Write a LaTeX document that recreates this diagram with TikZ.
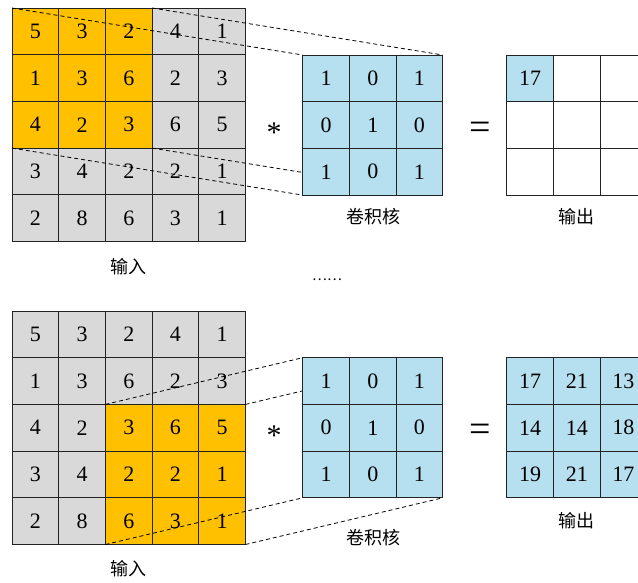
\documentclass[tikz,border=0pt]{standalone}
\usepackage{fontspec}
\setmainfont{Liberation Serif}
\newfontfamily\cjk{Noto Sans CJK SC}
\usepackage{xcolor}
\definecolor{cellgray}{RGB}{217,217,217}
\definecolor{cellorange}{RGB}{255,192,0}
\definecolor{cellblue}{RGB}{182,223,240}
\definecolor{gridline}{RGB}{35,35,35}
% input cells below, dashed guides in between, kernel on top
\pgfdeclarelayer{cells}
\pgfdeclarelayer{guides}
\pgfsetlayers{cells,guides,main}
\tikzset{
  cell/.style={draw=gridline,line width=0.8pt,minimum size=46.7pt,inner sep=0pt,outer sep=0pt,
    font=\fontsize{22}{22}\selectfont,fill=cellgray},
  guide/.style={draw=black,dash pattern=on 4pt off 3pt,line width=0.8pt},
  caption/.style={font=\cjk\fontsize{18}{18}\selectfont,inner sep=0pt},
  mulsign/.style={font=\fontsize{30}{30}\selectfont,inner sep=0pt},
  eqsign/.style={font=\fontsize{38}{38}\selectfont,inner sep=0pt}
}

\begin{document}
\begin{tikzpicture}[x=1pt,y=-1pt]
  \clip (0,0) rectangle (638,583);

  % input matrix, once for each step (top: window at top left, bottom: window at bottom right)
  \begin{pgfonlayer}{cells}
  \foreach \row [count=\r from 0] in {{5,3,2,4,1},{1,3,6,2,3},{4,2,3,6,5},{3,4,2,2,1},{2,8,6,3,1}}{
    \foreach \v [count=\c from 0] in \row{
      \def\cellfill{cellgray}
      \ifnum\r<3 \ifnum\c<3 \def\cellfill{cellorange}\fi\fi
      \node[cell,fill=\cellfill] (ia-\r-\c) at ({12+46.7*(\c+0.5)},{8+46.7*(\r+0.5)}) {\v};
      \def\cellfill{cellgray}
      \ifnum\r>1 \ifnum\c>1 \def\cellfill{cellorange}\fi\fi
      \node[cell,fill=\cellfill] (ib-\r-\c) at ({12+46.7*(\c+0.5)},{311+46.7*(\r+0.5)}) {\v};
    }
  }
  \end{pgfonlayer}

  % kernel
  \foreach \k/\y in {ka/55,kb/357.7}{
    \foreach \row [count=\r from 0] in {{1,0,1},{0,1,0},{1,0,1}}{
      \foreach \v [count=\c from 0] in \row{
        \node[cell,fill=cellblue] (\k-\r-\c) at ({302.7+46.7*(\c+0.5)},{\y+46.7*(\r+0.5)}) {\v};
      }
    }
  }

  % output: first value only, then the full result
  \foreach \r in {0,1,2}{
    \foreach \c in {0,1,2}{
      \node[cell,fill=white] (oa-\r-\c) at ({506.7+46.7*(\c+0.5)},{55+46.7*(\r+0.5)}) {};
    }
  }
  \node[cell,fill=cellblue] at (oa-0-0) {17};
  \foreach \row [count=\r from 0] in {{17,21,13},{14,14,18},{19,21,17}}{
    \foreach \v [count=\c from 0] in \row{
      \node[cell,fill=cellblue] (ob-\r-\c) at ({506.7+46.7*(\c+0.5)},{357.7+46.7*(\r+0.5)}) {\v};
    }
  }

  % window to kernel
  \begin{pgfonlayer}{guides}
  \draw[guide] (ia-0-0.north west) -- (ka-0-0.north west);
  \draw[guide] (ia-0-2.north east) -- (ka-0-2.north east);
  \draw[guide] (ia-2-0.south west) -- (ka-2-0.south west);
  \draw[guide] (ia-2-2.south east) -- (ka-2-2.south east);
  \draw[guide] (ib-2-2.north west) -- (kb-0-0.north west);
  \draw[guide] (ib-2-4.north east) -- (kb-0-2.north east);
  \draw[guide] (ib-4-2.south west) -- (kb-2-0.south west);
  \draw[guide] (ib-4-4.south east) -- (kb-2-2.south east);
  \end{pgfonlayer}

  \node[mulsign] (mula) at (274,133) {*};
  \node[eqsign] (eqa) at (480,131) {=};
  \node[mulsign] (mulb) at (274,436) {*};
  \node[eqsign] (eqb) at (480,433) {=};

  \node[caption] (capia) at (128,267) {输入};
  \node[caption] (capka) at (373,217) {卷积核};
  \node[caption] (capoa) at (576,217) {输出};
  \node[caption] (capib) at (128,569) {输入};
  \node[caption] (capkb) at (373,538) {卷积核};
  \node[caption] (capob) at (576,521) {输出};

  \node[font=\cjk\fontsize{14}{14}\selectfont,inner sep=0pt] (dots) at (327,280) {……};
\end{tikzpicture}
\end{document}
